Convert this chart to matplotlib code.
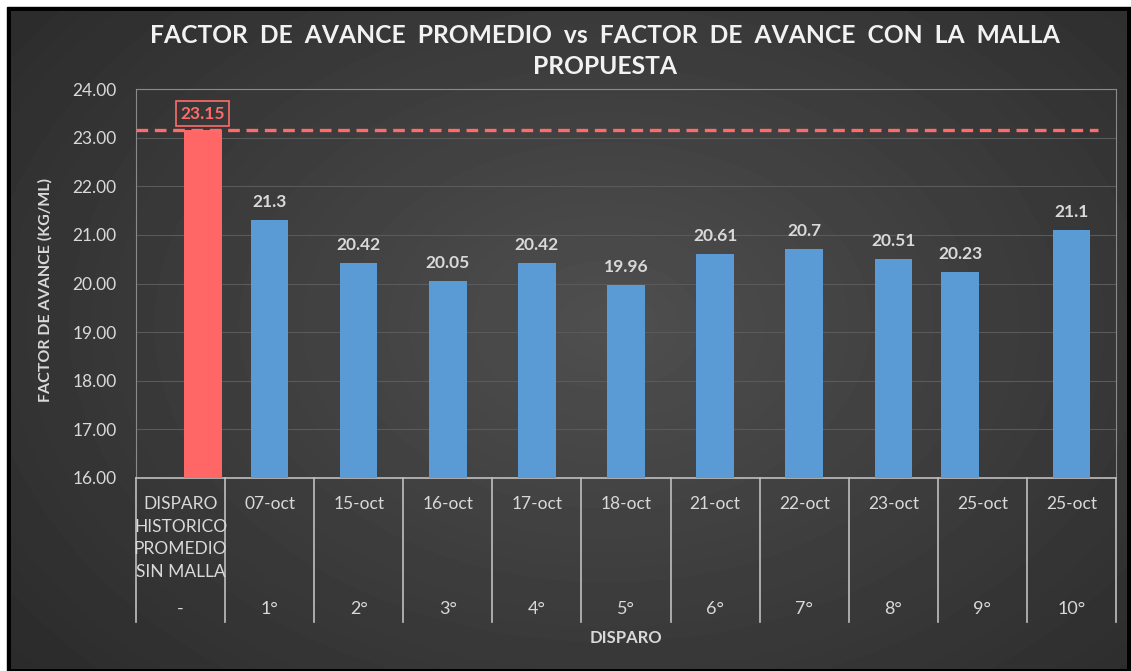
import matplotlib.pyplot as plt
import numpy as np
from matplotlib.patches import Rectangle

plt.rcParams['font.family'] = ['Lato', 'DejaVu Sans']

fechas = ['DISPARO\nHISTORICO\nPROMEDIO\nSIN MALLA', '07-oct', '15-oct', '16-oct', '17-oct',
          '18-oct', '21-oct', '22-oct', '23-oct', '25-oct', '25-oct']
disparos = ['-', '1°', '2°', '3°', '4°', '5°', '6°', '7°', '8°', '9°', '10°']
factor = [23.15, 21.3, 20.42, 20.05, 20.42, 19.96, 20.61, 20.7, 20.51, 20.23, 21.1]
etiquetas = ['23.15', '21.3', '20.42', '20.05', '20.42', '19.96', '20.61', '20.7', '20.51', '20.23', '21.1']
promedio_historico = 23.15

W, H = 1131, 671
fig = plt.figure(figsize=(W / 100, H / 100), dpi=100, facecolor='white')

# fondo con degradado radial
bg = fig.add_axes([0, 0, 1, 1])
bg.set_xlim(0, W)
bg.set_ylim(H, 0)
bg.axis('off')
bg.add_patch(Rectangle((7, 7), W - 7, H - 7, color='black', zorder=0))
yy, xx = np.mgrid[0:200, 0:300]
r = np.sqrt(((xx - 160) / 190.0) ** 2 + ((yy - 95) / 150.0) ** 2)
grad = np.clip(0.31 - 0.13 * r, 0.15, 0.31)
bg.imshow(grad, cmap='gray', vmin=0, vmax=1, extent=(11, W - 4, H - 2, 11),
          aspect='auto', zorder=1, interpolation='bilinear')

ax = fig.add_axes([136 / W, 1 - 478 / H, 980 / W, 389 / H])
ax.set_facecolor('none')

x = np.arange(len(factor))
shift = np.zeros(len(factor))
shift[0] = 0.25
shift[9] = -0.25
colores = ['#FF6666'] + ['#5B9BD5'] * (len(factor) - 1)
ax.bar(x + shift, factor, width=0.42, bottom=0, color=colores, zorder=3)

ax.set_ylim(16, 24)
ax.set_xlim(-0.5, len(factor) - 0.5)
ax.set_yticks(np.arange(16, 24.5, 1))
ax.set_yticklabels(['%.2f' % v for v in np.arange(16, 24.5, 1)], color='#d9d9d9', fontsize=12.5)
ax.tick_params(axis='y', length=0, pad=14)
ax.set_xticks([])
ax.grid(axis='y', color='#5a5a5a', linewidth=0.8, zorder=0)
for s in ['top', 'right', 'left']:
    ax.spines[s].set_color('#8a8a8a')
    ax.spines[s].set_linewidth(0.8)
ax.spines['bottom'].set_color('#bfbfbf')
ax.spines['bottom'].set_linewidth(1.2)

# promedio historico
ax.axhline(promedio_historico, xmin=0, xmax=0.982, color='#FF6B6B', linestyle=(0, (3.5, 2)),
           linewidth=2.4, zorder=4)

for i, v in enumerate(factor):
    if i == 0:
        ax.annotate(etiquetas[i], (x[i] + shift[i], v), xytext=(0, 12), textcoords='offset points',
                    ha='center', va='center', color='#FF6B6B', fontsize=12.5, fontweight='bold',
                    bbox=dict(boxstyle='square,pad=0.25', fc='none', ec='#FF6B6B', lw=1.2), zorder=5)
    else:
        ax.annotate(etiquetas[i], (x[i] + shift[i], v), xytext=(0, 13), textcoords='offset points',
                    ha='center', va='center', color='#d9d9d9', fontsize=12.5, fontweight='bold', zorder=5)

# eje de categorias en dos niveles
tr = ax.get_xaxis_transform()
for b in np.arange(-0.5, len(factor), 1):
    ax.plot([b, b], [0, -0.37], transform=tr, color='#bfbfbf', linewidth=1.2, clip_on=False)
for i in range(len(factor)):
    ax.text(x[i], -0.047, fechas[i], transform=tr, ha='center', va='top', color='#d9d9d9',
            fontsize=12.5, linespacing=1.5)
    ax.text(x[i], -0.337, disparos[i], transform=tr, ha='center', va='center', color='#d9d9d9',
            fontsize=13)

ax.text(0.5, -0.412, 'DISPARO', transform=ax.transAxes, ha='center', va='center',
        color='#d9d9d9', fontsize=12, fontweight='bold')
fig.text(45 / W, 1 - 290 / H, 'FACTOR DE AVANCE (KG/ML)', rotation=90, ha='center', va='center',
         color='#d9d9d9', fontsize=11.5, fontweight='bold')
fig.text(605 / W, 1 - 51 / H, 'FACTOR  DE  AVANCE  PROMEDIO  vs  FACTOR  DE  AVANCE  CON  LA  MALLA\nPROPUESTA',
         ha='center', va='center', color='#f2f2f2', fontsize=17.7, fontweight='bold', linespacing=1.45)

fig.savefig('out.png', dpi=100, facecolor='white')
